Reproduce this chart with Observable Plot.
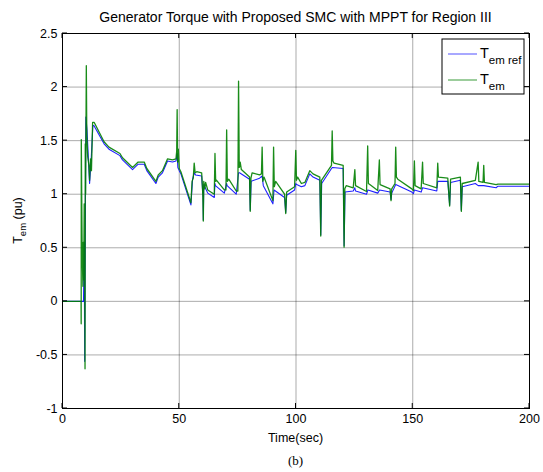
<!DOCTYPE html>
<html>
<head>
<meta charset="utf-8">
<script src="https://cdn.jsdelivr.net/npm/d3@7"></script>
<script src="https://cdn.jsdelivr.net/npm/@observablehq/plot@0.6"></script>
<style>
  html, body { margin: 0; padding: 0; background: #fff; }
  #chart { width: 543px; height: 472px; }
</style>
</head>
<body>
<div id="chart"></div>
<script>
// ---- Data ----
const titleText = "Generator Torque with Proposed SMC with MPPT for Region III";
const xTicks = [0, 50, 100, 150, 200];
const yTicks = [-1, -0.5, 0, 0.5, 1, 1.5, 2, 2.5];
const yTickLabels = ["-1", "-0.5", "0", "0.5", "1", "1.5", "2", "2.5"];
const seriesNames = ["em ref", "em"];

// Tem ref (blue): [time s, torque pu]
const temRef = [
  [0,0],[9.0,0],[9.3,0.55],[9.5,-0.56],[10.0,1.72],[10.5,1.6],[11.6,1.10],[12.3,1.33],[13.0,1.64],[13.5,1.64],
  [17.8,1.47],[19.9,1.42],[24.6,1.36],[25.7,1.32],[30,1.23],[32.4,1.28],[35,1.28],[36.1,1.22],[40,1.10],[41,1.16],
  [42.8,1.20],[45,1.31],[47.1,1.30],[48.6,1.31],[49.1,1.38],[49.4,1.25],[50,1.22],[50.7,1.19],[55,0.90],[55.7,1.14],
  [56.4,1.2],[57,1.18],[59.6,1.17],[60.2,0.97],[60.3,0.76],[60.5,1.09],[62.2,1.01],[65,0.97],[65.3,1.1],[65.5,1.08],
  [69.3,1.01],[70.3,1.1],[70.5,1.08],[74.4,1.0],[75.4,1.2],[75.8,1.20],[80.1,1.14],[80.4,0.85],[80.8,1.12],[84.4,1.15],
  [85.5,1.17],[86,1.08],[90.1,0.91],[90.6,1.04],[95.1,0.97],[95.6,0.83],[96,0.99],[99.4,1.04],[99.9,1.1],[100.3,1.09],
  [102.3,1.07],[103.8,1.08],[105.9,1.19],[107.3,1.16],[110.2,1.13],[110.6,0.62],[111,1.1],[115.2,1.24],[115.6,1.25],
  [120.2,1.24],[120.6,0.52],[121,1.02],[124.5,1.03],[125.2,1.06],[125.5,1.03],[130.2,1.0],[130.8,1.04],[135,1.01],
  [135.8,1.04],[140.3,1.02],[140.7,0.95],[141,1.01],[142.7,1.09],[149.6,1.02],[150.3,1.005],[150.7,1.04],[153.6,1.02],
  [154.2,1.06],[160.3,1.03],[160.7,1.12],[165,1.12],[165.8,0.9],[166.2,1.11],[170.4,1.13],[170.8,0.85],[171.2,1.07],
  [176.8,1.10],[178,1.08],[180.4,1.08],[185.7,1.06],[186.5,1.075],[200,1.075]
];

// Tem (green): [time s, torque pu]
const tem = [
  [0,0],[7.95,0],[8.0,-0.21],[8.05,1.51],[8.4,0.5],[8.75,0.14],[8.9,0.55],[9.1,0.2],[9.3,0.91],[9.5,0.3],
  [9.65,-0.63],[9.75,1.47],[9.9,1.0],[10.2,2.2],[10.4,1.55],[10.8,1.35],[11.3,1.27],[11.6,1.13],[12.0,1.33],[12.4,1.22],
  [12.9,1.67],[13.6,1.67],[17.8,1.49],[19.9,1.44],[24.6,1.38],[25.7,1.34],[30,1.25],[32.4,1.30],[35,1.30],[36.1,1.24],
  [40,1.12],[41,1.18],[42.8,1.22],[45,1.33],[47.1,1.32],[48.6,1.33],[48.9,1.40],[49.1,1.79],[49.3,1.30],[49.6,1.42],
  [50,1.24],[50.7,1.21],[55,0.92],[55.5,1.12],[56.0,1.15],[56.4,1.29],[56.8,1.20],[57.5,1.21],[59.6,1.20],[60.1,0.99],
  [60.3,0.75],[60.5,1.12],[60.9,1.05],[61.3,1.11],[62.2,1.04],[65,1.0],[65.3,1.38],[65.6,1.12],[66.0,1.13],[69.3,1.04],
  [70.0,1.04],[70.3,1.60],[70.6,1.12],[71.2,1.14],[74.4,1.03],[75.1,1.03],[75.4,2.055],[75.7,1.25],[76.1,1.30],[76.6,1.23],
  [80.1,1.16],[80.4,0.84],[80.7,1.15],[81.2,1.2],[84.4,1.18],[85.2,1.19],[85.5,1.44],[85.8,1.12],[86.3,1.16],[90.1,0.94],
  [90.4,1.44],[90.7,1.07],[91.3,1.12],[95.1,1.0],[95.6,0.82],[96,1.02],[99.4,1.07],[99.9,1.41],[100.2,1.13],[100.7,1.16],
  [102.3,1.1],[103.8,1.11],[105.9,1.22],[107.3,1.19],[110.2,1.16],[110.6,0.61],[110.9,1.13],[115.2,1.27],[115.5,1.59],
  [115.8,1.31],[116.3,1.29],[120.2,1.27],[120.6,0.506],[120.9,1.05],[121.5,1.08],[124.5,1.06],[125.2,1.23],[125.5,1.08],
  [130.2,1.025],[130.7,1.45],[131,1.1],[131.6,1.09],[135,1.035],[135.7,1.32],[136,1.09],[140.3,1.05],[140.7,0.94],
  [141,1.05],[142.4,1.1],[142.7,1.44],[143,1.16],[143.6,1.14],[149.6,1.05],[150.3,1.035],[150.7,1.31],[151,1.08],
  [153.6,1.05],[154.2,1.30],[154.5,1.1],[160.3,1.06],[160.7,1.29],[161,1.16],[165,1.15],[165.8,0.89],[166.2,1.14],
  [170.4,1.16],[170.8,0.84],[171.2,1.1],[176.8,1.13],[178,1.30],[178.3,1.12],[180.1,1.11],[180.4,1.27],[180.7,1.11],
  [185.7,1.09],[186.5,1.095],[200,1.095]
];

// ---- Chart ----
const W = 543, H = 472;
const mL = 62, mR = 14, mT = 33, mB = 64;
const font = "'Liberation Sans', Arial, sans-serif";
const blue = "#1f1fff", green = "#007f00";

const refData = temRef.map(([t, v]) => ({t, v}));
const emData = tem.map(([t, v]) => ({t, v}));

const chart = Plot.plot({
  width: W, height: H,
  marginLeft: mL, marginRight: mR, marginTop: mT, marginBottom: mB,
  style: {fontFamily: font, fontSize: "12.5px", background: "#fff", color: "#000", overflow: "visible"},
  x: {domain: [0, 200], label: null},
  y: {domain: [-1, 2.5], label: null},
  marks: [
    Plot.gridX(xTicks, {stroke: "#000", strokeOpacity: 0.33, strokeWidth: 1}),
    Plot.gridY(yTicks, {stroke: "#000", strokeOpacity: 0.33, strokeWidth: 1}),
    Plot.line(refData, {x: "t", y: "v", stroke: blue, strokeWidth: 1.1}),
    Plot.line(emData, {x: "t", y: "v", stroke: green, strokeWidth: 1.3, strokeOpacity: 0.9}),
    Plot.axisX(xTicks, {anchor: "bottom", tickSize: 0, tickPadding: 6, fontSize: 12.5, label: null}),
    Plot.axisY(yTicks, {anchor: "left", tickSize: 0, tickPadding: 5, fontSize: 12.5, label: null,
      tickFormat: (d) => yTickLabels[yTicks.indexOf(d)]}),
    Plot.frame({stroke: "#000", strokeWidth: 1})
  ]
});

document.getElementById("chart").appendChild(chart);

// Decorations: inward ticks, title, axis labels, legend, caption
const svg = d3.select(chart);
const xs = chart.scale("x"), ys = chart.scale("y");
const X = d => xs.apply(d), Y = d => ys.apply(d);
const x0 = X(0), x1 = X(200), y0 = Y(-1), y1 = Y(2.5);

const tg = svg.append("g").attr("stroke", "#000").attr("stroke-width", 1);
xTicks.forEach(d => {
  tg.append("line").attr("x1", X(d)).attr("x2", X(d)).attr("y1", y0).attr("y2", y0 - 5);
  tg.append("line").attr("x1", X(d)).attr("x2", X(d)).attr("y1", y1).attr("y2", y1 + 5);
});
yTicks.forEach(d => {
  tg.append("line").attr("x1", x0).attr("x2", x0 + 5).attr("y1", Y(d)).attr("y2", Y(d));
  tg.append("line").attr("x1", x1).attr("x2", x1 - 5).attr("y1", Y(d)).attr("y2", Y(d));
});

const cx = (x0 + x1) / 2;
svg.append("text").attr("x", cx).attr("y", 22).attr("text-anchor", "middle")
  .attr("font-family", font).attr("font-size", 14).attr("fill", "#000").text(titleText);

svg.append("text").attr("x", cx).attr("y", 442).attr("text-anchor", "middle")
  .attr("font-family", font).attr("font-size", 12.5).attr("fill", "#000").text("Time(sec)");

svg.append("text").attr("x", cx).attr("y", 465).attr("text-anchor", "middle")
  .attr("font-family", "'Liberation Serif', 'Times New Roman', serif").attr("font-size", 13).attr("fill", "#000").text("(b)");

const yl = svg.append("text").attr("transform", `translate(22,${(y0 + y1) / 2}) rotate(-90)`)
  .attr("text-anchor", "middle").attr("font-family", font).attr("font-size", 12.5).attr("fill", "#000");
yl.append("tspan").text("T");
yl.append("tspan").attr("dy", 4).attr("font-size", 9.5).text("em");
yl.append("tspan").attr("dy", -4).text(" (pu)");

// legend
const lg = svg.append("g");
const lx = 442, ly = 39, lw = 82, lh = 55;
lg.append("rect").attr("x", lx).attr("y", ly).attr("width", lw).attr("height", lh)
  .attr("fill", "#fff").attr("stroke", "#000").attr("stroke-width", 1);
[[blue, 54, seriesNames[0]], [green, 80, seriesNames[1]]].forEach(([c, yy, name]) => {
  lg.append("line").attr("x1", lx + 6).attr("x2", lx + 35).attr("y1", yy).attr("y2", yy)
    .attr("stroke", c).attr("stroke-width", 1.3).attr("stroke-opacity", 0.6);
  const t = lg.append("text").attr("x", lx + 38).attr("y", yy + 4).attr("font-family", font)
    .attr("font-size", 14.5).attr("fill", "#000").attr("text-anchor", "start");
  t.append("tspan").text("T");
  t.append("tspan").attr("dy", 6).attr("font-size", 11.5).text(name);
});
</script>
</body>
</html>
